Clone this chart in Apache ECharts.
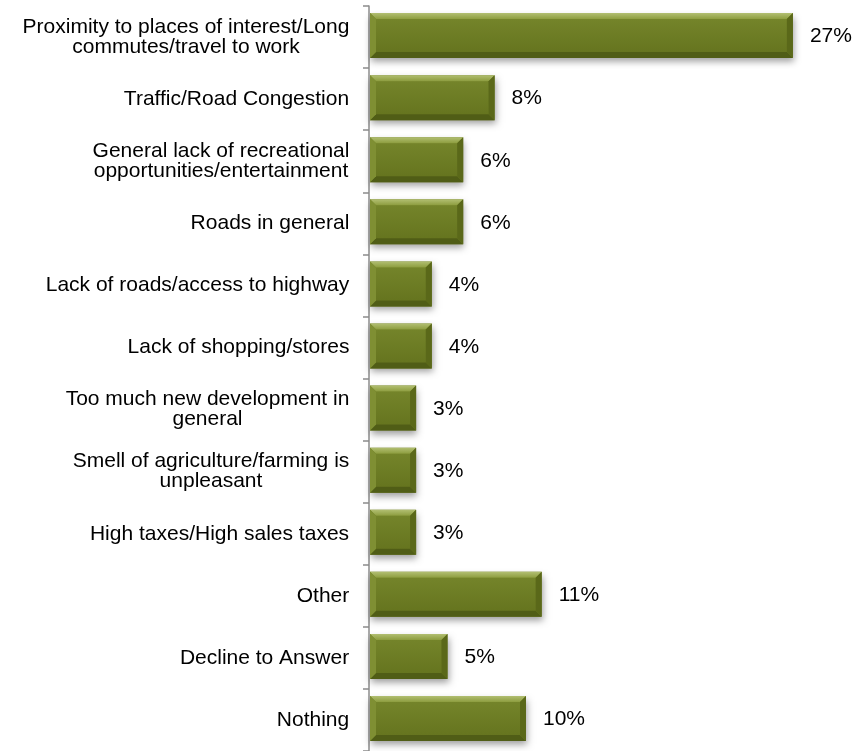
<!DOCTYPE html>
<html>
<head>
<meta charset="utf-8">
<title>Least liked aspects</title>
<script src="https://cdn.jsdelivr.net/npm/echarts@6/dist/echarts.min.js"></script>
<style>
  html, body { margin: 0; padding: 0; background: #ffffff; }
  #chart { width: 868px; height: 751px; }
</style>
</head>
<body>
<div id="chart"></div>
<script>
// Survey responses, top to bottom
var categories = [
  'Proximity to places of interest/Long\ncommutes/travel to work',
  'Traffic/Road Congestion',
  'General lack of recreational\nopportunities/entertainment',
  'Roads in general',
  'Lack of roads/access to highway',
  'Lack of shopping/stores',
  'Too much new development in\ngeneral',
  'Smell of agriculture/farming is\nunpleasant',
  'High taxes/High sales taxes',
  'Other',
  'Decline to Answer',
  'Nothing'
];
var percents = [27, 8, 6, 6, 4, 4, 3, 3, 3, 11, 5, 10];

var FONT = '"Liberation Sans", Arial, sans-serif';
var LABEL_SIZE = 21;

// Measure label lines so wrapped labels can be centred line by line
var measureCtx = document.createElement('canvas').getContext('2d');
measureCtx.font = LABEL_SIZE + 'px ' + FONT;
var rich = {};
categories.forEach(function (c, i) {
  var lines = c.split('\n');
  var w = 0;
  lines.forEach(function (l) { w = Math.max(w, measureCtx.measureText(l).width); });
  rich['c' + i] = {
    width: Math.ceil(w) + 1,
    align: 'center',
    fontSize: LABEL_SIZE,
    fontFamily: FONT,
    color: '#000000',
    lineHeight: 20
  };
});

// Beveled olive bar with soft drop shadow and a value label
function renderBevelBar(params, api) {
  var v = api.value(0);
  var idx = api.value(1);
  var start = api.coord([0, idx]);
  var end = api.coord([v, idx]);
  var h = 45;
  var x0 = start[0] + 1;
  var x1 = end[0];
  var y0 = start[1] - h / 2 - 1.5;
  var y1 = y0 + h;
  var b = 6;
  var w = x1 - x0;

  return {
    type: 'group',
    children: [
      {
        type: 'rect',
        shape: { x: x0, y: y0, width: w, height: h },
        style: {
          fill: '#6b7a23',
          shadowBlur: 7,
          shadowOffsetX: 1,
          shadowOffsetY: 4,
          shadowColor: 'rgba(0,0,0,0.38)'
        }
      },
      {
        type: 'rect',
        shape: { x: x0 + b, y: y0 + b, width: w - 2 * b, height: h - 2 * b },
        style: {
          fill: new echarts.graphic.LinearGradient(0, 0, 0, 1, [
            { offset: 0, color: '#74842a' },
            { offset: 1, color: '#66751f' }
          ])
        }
      },
      {
        type: 'polygon',
        shape: { points: [[x0, y0], [x1, y0], [x1 - b, y0 + b], [x0 + b, y0 + b]] },
        style: {
          fill: new echarts.graphic.LinearGradient(0, 0, 0, 1, [
            { offset: 0, color: '#b2bf72' },
            { offset: 1, color: '#8d9d3f' }
          ])
        }
      },
      {
        type: 'polygon',
        shape: { points: [[x0, y1], [x1, y1], [x1 - b, y1 - b], [x0 + b, y1 - b]] },
        style: { fill: '#505d16' }
      },
      {
        type: 'polygon',
        shape: { points: [[x0, y0], [x0 + b, y0 + b], [x0 + b, y1 - b], [x0, y1]] },
        style: { fill: '#7f8f33' }
      },
      {
        type: 'polygon',
        shape: { points: [[x1, y0], [x1 - b, y0 + b], [x1 - b, y1 - b], [x1, y1]] },
        style: { fill: '#5a6819' }
      },
      {
        type: 'text',
        style: {
          text: v + '%',
          x: x1 + 17,
          y: y0 + h / 2 + 1,
          fill: '#000000',
          fontSize: 21,
          fontFamily: FONT,
          align: 'left',
          verticalAlign: 'middle'
        }
      }
    ]
  };
}

var chart = echarts.init(document.getElementById('chart'), null, { renderer: 'canvas' });

chart.setOption({
  animation: false,
  backgroundColor: '#ffffff',
  grid: { left: 369, top: 6, width: 471, height: 750, containLabel: false },
  xAxis: {
    type: 'value',
    min: 0,
    max: 30,
    show: false
  },
  yAxis: {
    type: 'category',
    data: categories,
    inverse: true,
    axisLine: { show: true, lineStyle: { color: '#8c8c8c', width: 1.5 } },
    axisTick: { show: true, length: 6, lineStyle: { color: '#8c8c8c', width: 1.5 } },
    splitLine: { show: false },
    axisLabel: {
      margin: 19,
      color: '#000000',
      fontSize: LABEL_SIZE,
      fontFamily: FONT,
      lineHeight: 20,
      align: 'right',
      formatter: function (value, index) {
        return value.split('\n').map(function (l) {
          return '{c' + index + '|' + l + '}';
        }).join('\n');
      },
      rich: rich
    }
  },
  series: [{
    type: 'custom',
    renderItem: renderBevelBar,
    encode: { x: 0, y: 1 },
    data: percents.map(function (p, i) { return [p, i]; }),
    clip: false
  }]
});
</script>
</body>
</html>
